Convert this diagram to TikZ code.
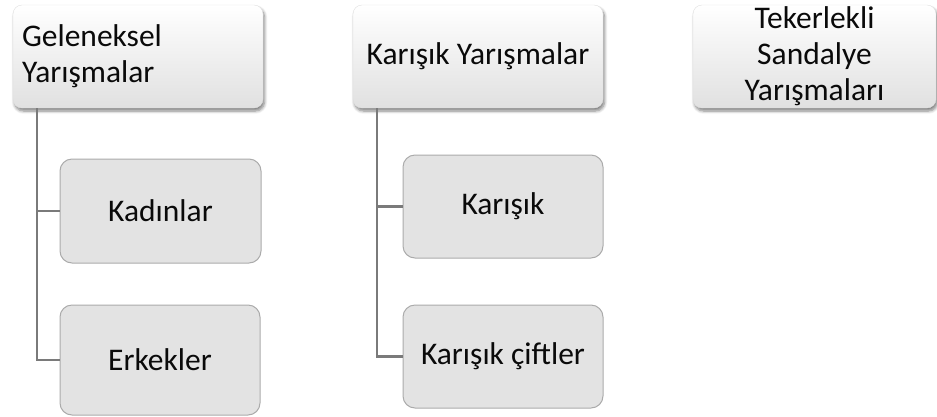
\documentclass[tikz,border=0pt]{standalone}
\usepackage{fontspec}
\setmainfont{Carlito}
\usetikzlibrary{shadows.blur}
\definecolor{kidfill}{HTML}{E3E3E3}
\definecolor{kidline}{HTML}{ABABAB}
\definecolor{connc}{HTML}{7A7A7A}
\definecolor{txt}{HTML}{0A0A0A}
\tikzset{
  topbox/.style={rounded corners=9pt, top color=white, bottom color=black!12,
    draw=black!12, line width=0.4pt, inner sep=0pt, text=txt,
    blur shadow={shadow xshift=1.5pt, shadow yshift=-3pt, shadow blur steps=6, shadow blur radius=3pt, shadow opacity=50},
    font=\fontsize{31.5}{36}\selectfont},
  kidbox/.style={rounded corners=12pt, fill=kidfill, draw=kidline, line width=1pt,
    inner sep=0pt, text=txt, minimum width=200pt, minimum height=103pt,
    font=\fontsize{31.5}{36}\selectfont, align=center},
  conn/.style={draw=connc, line width=2.5pt}
}
\begin{document}
\begin{tikzpicture}[x=1pt,y=-1pt]
\useasboundingbox (0,0) rectangle (937,416);
% top level
\node[topbox, minimum height=103pt, text width=232pt, inner xsep=9pt, align=left] (g) at (138,56.5) {Geleneksel\\Yarışmalar};
\node[topbox, minimum width=250pt, minimum height=103pt, align=center] (m) at (478,56.5) {Karışık Yarışmalar};
\node[topbox, minimum width=243pt, minimum height=103pt, align=center] (t) at (814.5,56.5) {Tekerlekli\\Sandalye\\Yarışmaları};
% children
\node[kidbox, minimum width=201pt, minimum height=104pt] (k) at (160.5,211) {Kadınlar};
\node[kidbox, minimum height=110pt] (e) at (160,360) {Erkekler};
\node[kidbox] (kr) at (503,206.5) {Karışık};
\node[kidbox] (kc) at (503,356.5) {Karışık çiftler};
% connectors
\coordinate (gl) at ([xshift=24pt]g.south west);
\coordinate (ml) at ([xshift=24pt]m.south west);
\draw[conn] (gl) |- (e.west);
\draw[conn] (gl |- k.west) -- (k.west);
\draw[conn] (ml) |- (kc.west);
\draw[conn] (ml |- kr.west) -- (kr.west);
\end{tikzpicture}
\end{document}
